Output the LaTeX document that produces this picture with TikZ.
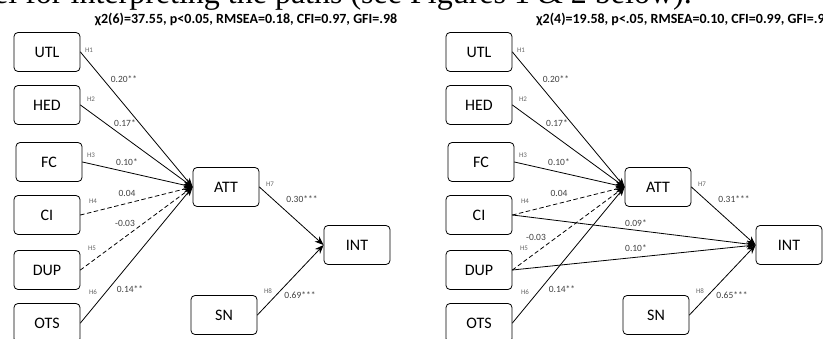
\documentclass[tikz,border=0pt]{standalone}
\usepackage{fontspec}
\setmainfont{Carlito}
\newfontfamily\timesfont{Liberation Serif}
\usetikzlibrary{arrows.meta}

\begin{document}
\begin{tikzpicture}[x=1pt, y=-1pt, >={Stealth[length=9pt,width=7pt]}, font=\footnotesize, line join=round, line cap=round,
	box/.style={draw, line width=0.8pt, rounded corners=4pt, minimum width=66pt, minimum height=39pt, inner sep=0pt, font=\fontsize{16}{16}\selectfont},
	hyp/.style={inner sep=0pt, text=black!60, font=\fontsize{7}{7}\selectfont},
	coef/.style={inner sep=0pt, text=black!75, font=\fontsize{9.5}{9.5}\selectfont},
	stats/.style={inner sep=0pt, font=\bfseries\fontsize{14}{14}\selectfont},
	link/.style={->, line width=0.8pt},
	weak/.style={link, dash pattern=on 4pt off 3pt}]
	\useasboundingbox (0,0) rectangle (823,339);
	\clip (0,0) rectangle (823,339);
	\node[anchor=base west, inner sep=0pt, font=\timesfont\fontsize{32}{32}\selectfont] (intro) at (-6,4) {el for interpreting the paths (see Figures 1 \& 2 below).};
	% two models, side by side
	\foreach \k/\dx/\sx/\fitinfo/\cseven/\ceight/\mx/\my in
		{a/0/246/{χ2(6)=37.55, p<0.05, RMSEA=0.18, CFI=0.97, GFI=.98}/0.30/0.69/125/223,
		 b/432/684/{χ2(4)=19.58, p<.05, RMSEA=0.10, CFI=0.99, GFI=.98}/0.31/0.65/104/237}
	{
		\node[stats] (fit\k) at (\sx,19) {\fitinfo};
		\node[box] (UTL\k) at (47+\dx,52) {UTL};
		\node[box] (HED\k) at (47+\dx,105) {HED};
		\node[box] (FC\k) at (49+\dx,162) {FC};
		\node[box] (CI\k) at (47+\dx,215) {CI};
		\node[box] (DUP\k) at (47+\dx,270) {DUP};
		\node[box] (OTS\k) at (47+\dx,323) {OTS};
		\node[box] (ATT\k) at (226+\dx,187) {ATT};
		\node[box] (INT\k) at (357+\dx,245) {INT};
		\node[box] (SN\k) at (224+\dx,315) {SN};
		\foreach \s in {UTL,HED,FC,OTS} \draw[link] (\s\k.east) -- (ATT\k.west);
		\foreach \s in {CI,DUP} \draw[weak] (\s\k.east) -- (ATT\k.west);
		\draw[link] (ATT\k.east) -- (INT\k.west);
		\draw[link] (SN\k.east) -- (INT\k.west);
		\foreach \h/\hx/\hy in {1/89/50,2/91/99,3/91/155,4/93/201,5/92/248,6/93/292,7/270/184,8/268/291}
			\node[hyp] (h\h\k) at (\hx+\dx,\hy) {H\h};
		\foreach \c/\cx/\cy/\v in {1/124/79/0.20**,2/125/123/0.17*,3/127/162/0.10*,4/127/193/0.04,6/130/289/0.14**}
			\node[coef] (c\c\k) at (\cx+\dx,\cy) {\v};
		\node[coef] (c5\k) at (\mx+\dx,\my) {-0.03};
		\node[coef] (c7\k) at (302+\dx,199) {\cseven***};
		\node[coef] (c8\k) at (300+\dx,295) {\ceight***};
	}
	% extra direct paths in the second model
	\draw[link] (CIb.east) -- (INTb.west);
	\draw[link] (DUPb.east) -- (INTb.west);
	\node[coef] (c9b) at (636,223) {0.09*};
	\node[coef] (c10b) at (636,248) {0.10*};
\end{tikzpicture}
\end{document}
